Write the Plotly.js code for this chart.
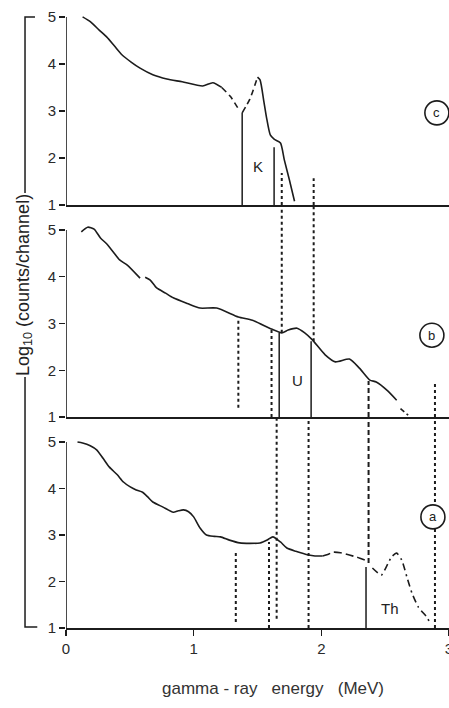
<!DOCTYPE html>
<html>
<head>
<meta charset="utf-8">
<script src="https://cdn.plot.ly/plotly-3.0.1.min.js"></script>
<style>html,body{margin:0;padding:0;background:#fff;}#chart{width:449px;height:708px;}</style>
</head>
<body>
<div id="chart"></div>
<script>
// ---------- data (energy in MeV, log10 counts/channel) ----------
const xTickVals = [0, 1, 2, 3];
const yTickVals = [1, 2, 3, 4, 5];

// Panel (c) : potassium
const cMainE = [0.13,0.19,0.26,0.32,0.38,0.44,0.51,0.58,0.68,0.79,0.91,1.07,1.15,1.22];
const cMainL = [5.00,4.90,4.72,4.57,4.38,4.19,4.04,3.91,3.77,3.68,3.62,3.53,3.60,3.50];
const cDash1E = [1.22,1.29,1.36];
const cDash1L = [3.50,3.30,3.00];
const cDash2E = [1.38,1.44,1.50];
const cDash2L = [2.96,3.25,3.72];
const cPeakE = [1.50,1.52,1.55,1.57,1.60,1.63,1.68,1.71,1.75,1.79];
const cPeakL = [3.72,3.66,3.20,2.87,2.49,2.40,2.32,1.96,1.53,1.08];

// Panel (b) : uranium
const bMain1E = [0.12,0.17,0.22,0.27,0.32,0.37,0.42,0.48,0.58];
const bMain1L = [4.96,5.06,5.02,4.83,4.70,4.53,4.36,4.25,3.97];
const bMain2E = [0.62,0.66,0.71,0.78,0.84,0.95,1.05,1.18,1.35,1.46,1.61,1.69,1.74,1.81,1.87,1.93,2.03,2.11,2.22,2.30,2.38,2.43,2.52,2.59];
const bMain2L = [3.99,3.93,3.76,3.65,3.55,3.43,3.33,3.33,3.14,3.07,2.88,2.80,2.86,2.90,2.80,2.65,2.33,2.18,2.24,2.04,1.79,1.75,1.56,1.36];
const bTailE = [2.62,2.68];
const bTailL = [1.18,1.04];

// Panel (a) : thorium
const aMainE = [0.09,0.13,0.19,0.24,0.29,0.34,0.40,0.45,0.50,0.55,0.60,0.64,0.68,0.76,0.84,0.88,0.92,0.96,1.00,1.05,1.10,1.16,1.21,1.28,1.36,1.44,1.52,1.58,1.62,1.68,1.73,1.80,1.90,1.95,2.01];
const aMainL = [5.00,4.98,4.92,4.83,4.65,4.46,4.30,4.14,4.04,3.97,3.92,3.82,3.71,3.60,3.49,3.52,3.54,3.50,3.39,3.15,3.00,2.97,2.96,2.89,2.83,2.82,2.83,2.90,2.96,2.85,2.72,2.65,2.57,2.55,2.55];
const aDashE = [2.01,2.05,2.09,2.15,2.22,2.28,2.34];
const aDashL = [2.55,2.58,2.63,2.62,2.57,2.52,2.46];
const aDashDotE = [2.40,2.47,2.51,2.55,2.59,2.63,2.67,2.71,2.76,2.83,2.85];
const aDashDotL = [2.29,2.14,2.32,2.53,2.61,2.46,2.10,1.75,1.45,1.22,1.10];

// window boundary lines [energy, from, to]  (to = 6 : runs on past the top of the panel)
const cSolidX = [1.38, 1.63];   const cSolidY0 = [1, 1];      const cSolidY1 = [2.96, 2.23];
const cDotX   = [1.69, 1.94];   const cDotY0   = [1, 1];      const cDotY1   = [1.68, 1.57];

const bSolidX = [1.67, 1.92];   const bSolidY0 = [1, 1];      const bSolidY1 = [2.80, 2.62];
const bDotX   = [1.35, 1.61, 1.69, 1.94, 2.89];
const bDotY0  = [1.20, 1.00, 2.80, 2.62, 1.00];
const bDotY1  = [3.10, 2.88, 6.00, 6.00, 1.75];
const bDashX  = [2.37];         const bDashY0 = [1];          const bDashY1 = [1.77];

const aSolidX = [2.35];         const aSolidY0 = [1];         const aSolidY1 = [2.31];
const aDotX   = [1.33, 1.59, 1.65, 1.90, 2.89];
const aDotY0  = [1.13, 1.00, 1.20, 1.00, 1.00];
const aDotY1  = [2.68, 2.85, 6.00, 6.00, 6.00];
const aDashX  = [2.37];         const aDashY0 = [2.40];       const aDashY1 = [6.00];

// text labels
const windowNames = ['K', 'U', 'Th'];
const windowE = [1.50, 1.81, 2.54];
const windowL = [1.81, 1.79, 1.43];
const panelNames = ['c', 'b', 'a'];
const panelE = [2.905, 2.866, 2.874];
const panelL = [2.96, 2.75, 3.39];

// ---------- build ----------
const INK = '#1c1c1c';
const CURVE_W = 1.6;
function xOf(ya) { return ya === 'y' ? 'x' : (ya === 'y2' ? 'x2' : 'x3'); }

function curve(x, y, ya, dash) {
  return {x: x, y: y, xaxis: xOf(ya), yaxis: ya,
          mode: 'lines', line: {color: INK, width: CURVE_W, dash: dash || 'solid', shape: 'spline', smoothing: 0.6},
          hoverinfo: 'skip', showlegend: false};
}
function verticals(xs, y0s, y1s, ya, dash, w) {
  const X = [], Y = [];
  xs.forEach((v, i) => { X.push(v, v, null); Y.push(y0s[i], y1s[i], null); });
  return {x: X, y: Y, xaxis: xOf(ya), yaxis: ya,
          mode: 'lines', line: {color: INK, width: w || 1.5, dash: dash},
          hoverinfo: 'skip', showlegend: false};
}
const DOT = '3px,3px';
const DASH = '5px,3px';

const traces = [
  // panel c
  curve(cMainE, cMainL, 'y3'),
  curve(cDash1E, cDash1L, 'y3', '6px,4px'),
  curve(cDash2E, cDash2L, 'y3', '6px,4px'),
  curve(cPeakE, cPeakL, 'y3'),
  verticals(cSolidX, cSolidY0, cSolidY1, 'y3', 'solid', 1.5),
  verticals(cDotX, cDotY0, cDotY1, 'y3', DOT, 2),
  // panel b
  curve(bMain1E, bMain1L, 'y2'),
  curve(bMain2E, bMain2L, 'y2'),
  curve(bTailE, bTailL, 'y2', '5px,3px'),
  verticals(bSolidX, bSolidY0, bSolidY1, 'y2', 'solid', 1.5),
  verticals(bDotX, bDotY0, bDotY1, 'y2', DOT, 2),
  verticals(bDashX, bDashY0, bDashY1, 'y2', DASH, 2),
  // panel a
  curve(aMainE, aMainL, 'y'),
  curve(aDashE, aDashL, 'y', '8px,4px'),
  curve(aDashDotE, aDashDotL, 'y', '7px,4px,2px,4px'),
  verticals(aSolidX, aSolidY0, aSolidY1, 'y', 'solid', 1.5),
  verticals(aDotX, aDotY0, aDotY1, 'y', DOT, 2),
  verticals(aDashX, aDashY0, aDashY1, 'y', DASH, 2)
];

const FONT = {family: 'Liberation Sans, Arial, sans-serif', size: 14, color: '#2a2a2a'};
const panelAxes = ['y3', 'y2', 'y'];

const shapes = [];
// y-axis lines from 1 to 5 in each panel
['y', 'y2', 'y3'].forEach(ya => {
  shapes.push({type: 'line', xref: xOf(ya), yref: ya,
               x0: 0, x1: 0, y0: 1, y1: 5, line: {color: INK, width: 1.6}});
});
// bracket around the shared y title (paper coords)
shapes.push({type: 'path', xref: 'paper', yref: 'paper',
             path: 'M -0.081 0.9855 L -0.107 0.9855 L -0.107 0.7016', line: {color: INK, width: 1.5}});
shapes.push({type: 'path', xref: 'paper', yref: 'paper',
             path: 'M -0.107 0.4048 L -0.107 0.0016 L -0.075 0.0016', line: {color: INK, width: 1.5}});
// circled panel letters
panelNames.forEach((n, i) => {
  const ya = panelAxes[i];
  shapes.push({type: 'circle', xref: xOf(ya), yref: ya,
               xsizemode: 'pixel', ysizemode: 'pixel', xanchor: panelE[i], yanchor: panelL[i],
               x0: -12, x1: 12, y0: -12, y1: 12, fillcolor: '#ffffff', line: {color: INK, width: 1.6}});
});

const annotations = [];
windowNames.forEach((n, i) => {
  const ya = panelAxes[i];
  annotations.push({text: n, x: windowE[i], y: windowL[i], xref: xOf(ya), yref: ya,
                    showarrow: false, font: {family: FONT.family, size: 15, color: '#222'}});
});
panelNames.forEach((n, i) => {
  const ya = panelAxes[i];
  annotations.push({text: n, x: panelE[i], y: panelL[i], xref: xOf(ya), yref: ya,
                    showarrow: false, font: {family: FONT.family, size: 13, color: '#222'}});
});
annotations.push({text: 'Log<sub>10</sub> (counts/channel)', textangle: -90, x: -0.11, y: 0.553,
                  xref: 'paper', yref: 'paper', xanchor: 'center', yanchor: 'middle', showarrow: false,
                  font: {family: FONT.family, size: 18, color: '#222'}});
annotations.push({text: 'gamma\u00a0-\u00a0ray\u00a0\u00a0\u00a0energy\u00a0\u00a0\u00a0(MeV)', x: 0.54, y: -0.097,
                  xref: 'paper', yref: 'paper', showarrow: false, yanchor: 'middle',
                  font: {family: FONT.family, size: 17, color: '#333'}});

const xBase = {range: [0, 3], showgrid: false, zeroline: false, showline: true, linecolor: INK, linewidth: 1.6,
               fixedrange: true};
const yBase = {showgrid: false, zeroline: false, showline: false, ticks: 'outside', ticklen: 6, tickwidth: 1.5,
               tickcolor: INK, tickvals: yTickVals, tickfont: {family: FONT.family, size: 15, color: '#2a2a2a'},
               fixedrange: true};

const layout = {
  width: 449, height: 708,
  margin: {l: 66, r: 0, t: 8, b: 80},
  paper_bgcolor: '#ffffff', plot_bgcolor: '#ffffff',
  showlegend: false,
  xaxis: Object.assign({}, xBase, {anchor: 'y', ticks: 'outside', ticklen: 6, tickwidth: 1.5, tickcolor: INK,
                                   tickvals: xTickVals, tickfont: {family: FONT.family, size: 15, color: '#2a2a2a'},
                                   ticklabeloverflow: 'allow', automargin: false}),
  xaxis2: Object.assign({}, xBase, {anchor: 'y2', matches: 'x', showticklabels: false, ticks: ''}),
  xaxis3: Object.assign({}, xBase, {anchor: 'y3', matches: 'x', showticklabels: false, ticks: ''}),
  yaxis: Object.assign({}, yBase, {domain: [0, 0.3403], range: [1, 5.538], anchor: 'x'}),
  yaxis2: Object.assign({}, yBase, {domain: [0.3403, 0.6823], range: [1, 5.535], anchor: 'x2'}),
  yaxis3: Object.assign({}, yBase, {domain: [0.6823, 1], range: [1, 5.19], anchor: 'x3'}),
  shapes: shapes,
  annotations: annotations
};

Plotly.newPlot('chart', traces, layout, {displayModeBar: false, staticPlot: true});
</script>
</body>
</html>
